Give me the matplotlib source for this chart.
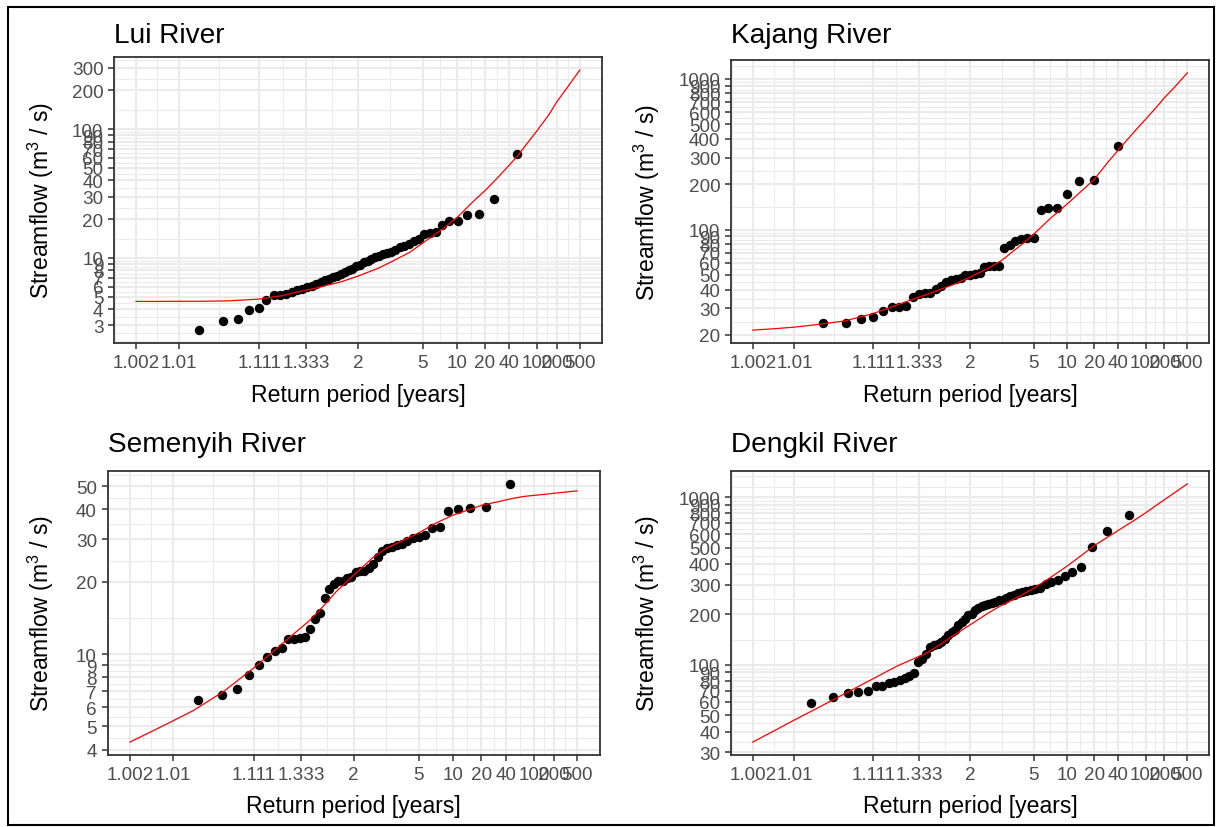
from statistics import NormalDist
import numpy as np
import matplotlib
matplotlib.use("Agg")
from matplotlib import pyplot as plt
from matplotlib.patches import Rectangle
from matplotlib.ticker import NullFormatter, NullLocator


W, H = 1217, 828

# x axis: non-exceedance probabilities shown as return periods
prob_breaks = [0.002, 0.01, 0.1, 0.25, 0.5, 0.8, 0.9, 0.95, 0.975, 0.99, 0.995, 0.998]
x_labels = ["1.002", "1.01", "1.111", "1.333", "2", "5", "10", "20", "40", "100", "200", "500"]
y_breaks = [1, 2, 3, 4, 5, 6, 7, 8, 9, 10, 20, 30, 40, 50, 60, 70, 80, 90,
            100, 200, 300, 400, 500, 600, 700, 800, 900, 1000, 2000]

# fitted curves (return period, streamflow)
curve_T = [1.002, 1.005, 1.01, 1.02, 1.05, 1.111, 1.2, 1.25, 1.4, 1.5,
           1.7, 2, 2.5, 3, 4, 5, 7, 10, 15, 20,
           30, 50, 70, 100, 150, 200, 300, 500]
lui_curve = [4.6, 4.6, 4.61, 4.61, 4.65, 4.8, 5.12, 5.36, 5.8, 6.08,
             6.52, 7.24, 8.28, 9.33, 11.1, 13.1, 16.3, 20.5, 27.7, 33.2,
             43.4, 60.4, 76.8, 98, 129, 162, 210, 288]
kajang_curve = [21.5, 22.0, 22.5, 23.3, 24.7, 27.7, 31.6, 33.3, 37.2, 39.4,
                43.1, 48.3, 55.8, 63, 79, 93, 119, 147, 185, 215,
                283, 380, 454, 540, 653, 750, 885, 1096]
semenyih_curve = [4.3, 4.8, 5.26, 5.82, 7.0, 8.77, 10.7, 11.6, 13.8, 15.3,
                  18.2, 21.3, 25.3, 27.7, 30.1, 32, 35.2, 37.9, 40.1, 41.6,
                  42.9, 44.5, 45.3, 45.8, 46.3, 46.7, 47.2, 47.8]
dengkil_curve = [34.6, 40.8, 46.8, 54, 67, 82.7, 98.2, 104, 118, 129,
                 149, 173, 205, 228, 259, 285, 332, 386, 458, 513,
                 581, 671, 733, 805, 897, 964, 1064, 1197]

# observed annual maxima
lui_T = [1.02, 1.041, 1.063, 1.085, 1.109, 1.133, 1.159, 1.186, 1.214, 1.244,
         1.275, 1.308, 1.342, 1.378, 1.417, 1.457, 1.5, 1.545, 1.594, 1.645,
         1.7, 1.759, 1.821, 1.889, 1.962, 2.04, 2.125, 2.217, 2.318, 2.429,
         2.55, 2.684, 2.833, 3.0, 3.188, 3.4, 3.643, 3.923, 4.25, 4.636,
         5.1, 5.667, 6.375, 7.286, 8.5, 10.2, 12.75, 17.0, 25.5, 51.0]
lui_Q = [2.76, 3.27, 3.37, 3.98, 4.1, 4.7, 5.13, 5.18, 5.28, 5.4,
         5.6, 5.7, 5.95, 6.06, 6.31, 6.5, 6.69, 6.89, 7.1, 7.31,
         7.53, 7.76, 8.13, 8.23, 8.73, 8.83, 9.27, 9.54, 9.83, 10.1,
         10.3, 10.7, 10.9, 11.2, 11.6, 12.1, 12.4, 12.8, 13.6, 14.0,
         15.4, 15.6, 15.8, 18.0, 19.2, 19.4, 21.4, 22.1, 28.5, 64.3]

kajang_T = [1.026, 1.053, 1.081, 1.111, 1.143, 1.176, 1.212, 1.25, 1.29, 1.333,
            1.379, 1.429, 1.481, 1.538, 1.6, 1.667, 1.739, 1.818, 1.905, 2.0,
            2.105, 2.222, 2.353, 2.5, 2.667, 2.857, 3.077, 3.333, 3.636, 4.0,
            4.444, 5.0, 5.714, 6.667, 8.0, 10.0, 13.333, 20.0, 40.0]
kajang_Q = [23.9, 24.0, 25.3, 26.2, 28.8, 30.5, 30.6, 31.0, 35.9, 37.4,
            37.8, 38.0, 40.4, 42.1, 44.8, 46.4, 47.1, 47.6, 49.6, 49.6,
            50.8, 51.6, 56.3, 57.0, 57.0, 57.1, 75.4, 78.4, 84.5, 85.9,
            87.7, 87.9, 135.0, 138.7, 139.5, 172.5, 209.0, 213.6, 357.0]

semenyih_T = [1.023, 1.047, 1.071, 1.098, 1.125, 1.154, 1.184, 1.216, 1.25, 1.286,
              1.324, 1.364, 1.406, 1.452, 1.5, 1.552, 1.607, 1.667, 1.731, 1.8,
              1.875, 1.957, 2.045, 2.143, 2.25, 2.368, 2.5, 2.647, 2.813, 3.0,
              3.214, 3.462, 3.75, 4.091, 4.5, 5.0, 5.625, 6.429, 7.5, 9.0,
              11.25, 15.0, 22.5, 45.0]
semenyih_Q = [6.43, 6.74, 7.15, 8.2, 9.0, 9.7, 10.3, 10.6, 11.5, 11.5,
              11.7, 11.8, 12.7, 14.0, 14.8, 17.1, 18.7, 19.6, 20.1, 20.2,
              20.7, 20.9, 21.9, 22.2, 22.2, 22.8, 23.6, 25.4, 26.9, 27.6,
              28.0, 28.5, 28.7, 29.6, 30.4, 30.8, 31.4, 33.5, 33.7, 39.5,
              40.2, 40.6, 41.1, 51.1]

dengkil_T = [1.018, 1.036, 1.056, 1.075, 1.096, 1.118, 1.14, 1.163, 1.188, 1.213,
             1.239, 1.267, 1.295, 1.326, 1.357, 1.39, 1.425, 1.462, 1.5, 1.541,
             1.583, 1.629, 1.676, 1.727, 1.781, 1.839, 1.9, 1.966, 2.036, 2.111,
             2.192, 2.28, 2.375, 2.478, 2.591, 2.714, 2.85, 3.0, 3.167, 3.353,
             3.563, 3.8, 4.071, 4.385, 4.75, 5.182, 5.7, 6.333, 7.125, 8.143,
             9.5, 11.4, 14.25, 19.0, 28.5, 57.0]
dengkil_Q = [59.2, 64.1, 67.7, 68.7, 70.2, 74.5, 75.2, 77.6, 79.4, 81.3,
             83.2, 86.3, 89.6, 103.8, 108.6, 116.4, 127.6, 130.6, 133.7, 136.8,
             143.3, 151.4, 157.0, 160.4, 171.8, 180.2, 188.4, 197.3, 202.0, 211.4,
             218.6, 224.5, 226.5, 228.7, 231.9, 237.3, 242.7, 242.7, 248.4, 257.8,
             260.0, 268.6, 272.4, 274.8, 278.6, 281.2, 287.8, 301.3, 312.7, 319.9,
             339.8, 355.6, 384.6, 506.7, 628.0, 783.4]


plt.rcParams['font.family'] = ['Liberation Sans', 'DejaVu Sans']
plt.rcParams['mathtext.fontset'] = 'custom'
plt.rcParams['mathtext.rm'] = 'Liberation Sans'
plt.rcParams['mathtext.default'] = 'regular'

GRID = '#EBEBEB'
DARK = '#333333'
TICKTXT = '#4D4D4D'

nd = NormalDist()


def t_to_z(T):
    return np.array([nd.inv_cdf(1 - 1 / t) for t in T])


def minor_breaks(b, lo, hi):
    # same idea as ggplot's regular_minor_breaks
    b = [v for v in b if lo <= v <= hi]
    bd = b[1] - b[0]
    if lo < b[0]:
        b = [b[0] - bd] + b
    if hi > b[-1]:
        b = b + [b[-1] + bd]
    out = []
    for a, c in zip(b[:-1], b[1:]):
        out += [a, (a + c) / 2]
    out.append(b[-1])
    return [v for v in out if lo <= v <= hi]


def px_axes(fig, left, top, right, bottom):
    return fig.add_axes([left / W, 1 - bottom / H, (right - left) / W, (bottom - top) / H])


def panel(fig, box, title, T, Q, cQ, title_y, ylab_x, xlab_y):
    ax = px_axes(fig, *box)
    cz = t_to_z(curve_T)
    pz = t_to_z(T)

    # limits like ggplot: data range + 5 %
    zb = [nd.inv_cdf(p) for p in prob_breaks]
    xr = max(cz) - min(cz)
    xlo, xhi = min(cz) - 0.05 * xr, max(cz) + 0.05 * xr
    lq = np.log10(list(Q) + list(cQ))
    yr = lq.max() - lq.min()
    ylo, yhi = lq.min() - 0.05 * yr, lq.max() + 0.05 * yr

    ax.set_yscale('log')
    ax.set_xlim(xlo, xhi)
    ax.set_ylim(10 ** ylo, 10 ** yhi)

    yb = [v for v in y_breaks if ylo <= np.log10(v) <= yhi]
    ymin = minor_breaks([np.log10(v) for v in yb], ylo, yhi)
    xmin = minor_breaks(zb, xlo, xhi)

    for v in ymin:
        ax.axhline(10 ** v, color=GRID, lw=0.8, zorder=0)
    for v in xmin:
        ax.axvline(v, color=GRID, lw=0.8, zorder=0)
    for v in yb:
        ax.axhline(v, color=GRID, lw=1.5, zorder=0)
    for v in zb:
        ax.axvline(v, color=GRID, lw=1.5, zorder=0)

    ax.scatter(pz, Q, s=46, color='black', zorder=3, linewidths=0)
    ax.plot(cz, cQ, color='red', lw=0.9, zorder=4)

    ax.set_xticks(zb)
    ax.set_xticklabels(x_labels)
    ax.set_yticks(yb)
    ax.set_yticklabels([str(v) for v in yb])
    ax.yaxis.set_minor_locator(NullLocator())
    ax.yaxis.set_minor_formatter(NullFormatter())
    ax.tick_params(axis='both', which='major', length=4.3, width=1.1, color=DARK,
                   labelsize=13.6, labelcolor=TICKTXT, pad=3.3)
    for s in ax.spines.values():
        s.set_color(DARK)
        s.set_linewidth(1.3)

    left, top, right, bottom = box
    fig.text(left / W, 1 - title_y / H, title, fontsize=20.2, ha='left', va='baseline')
    fig.text((left + right) / 2 / W, 1 - xlab_y / H, 'Return period [years]',
             fontsize=16.6, ha='center', va='baseline')
    fig.text(ylab_x / W, 1 - (top + bottom) / 2 / H, 'Streamflow (m$^3$ / s)',
             fontsize=16.6, rotation=90, rotation_mode='anchor', ha='center', va='baseline')
    return ax


fig = plt.figure(figsize=(W / 100, H / 100), dpi=100)

panel(fig, (114, 58, 602, 344), 'Lui River', lui_T, lui_Q, lui_curve, 43, 49, 402)
panel(fig, (731, 61, 1209, 344), 'Kajang River', kajang_T, kajang_Q, kajang_curve, 43, 655, 402)
panel(fig, (107.5, 472, 599.5, 756), 'Semenyih River', semenyih_T, semenyih_Q, semenyih_curve, 452, 49, 813)
panel(fig, (731, 472, 1209, 756), 'Dengkil River', dengkil_T, dengkil_Q, dengkil_curve, 452, 655, 813)

fig.add_artist(Rectangle((8 / W, 2 / H), (1214 - 8) / W, (826 - 8) / H,
                         transform=fig.transFigure, fill=False, lw=1.5, color='black'))

fig.savefig('out.png', dpi=100)
